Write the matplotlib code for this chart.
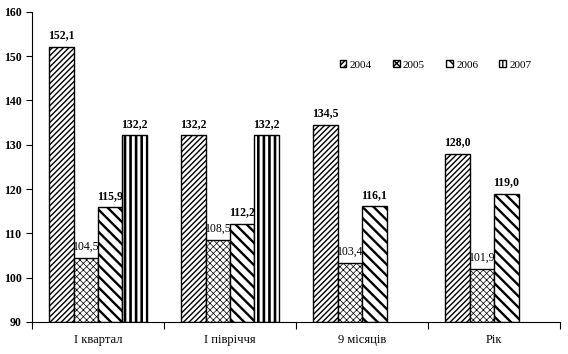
import numpy as np
import matplotlib
matplotlib.use("Agg")
import matplotlib.pyplot as plt

categories = ["І квартал", "І півріччя", "9 місяців", "Рік"]
years = ["2004", "2005", "2006", "2007"]
v2004 = [152.1, 132.2, 134.5, 128.0]
v2005 = [104.5, 108.5, 103.4, 101.9]
v2006 = [115.9, 112.2, 116.1, 119.0]
v2007 = [132.2, 132.2, None, None]

series = [v2004, v2005, v2006, v2007]
hatches = ["//////", "xxxxx", "\\\\\\", "|||"]
hatch_lw = [1.0, 0.5, 1.7, 1.9]
label_bold = [True, False, True, True]

plt.rcParams["font.family"] = ["Liberation Serif", "DejaVu Serif"]

fig = plt.figure(figsize=(5.68, 3.54), dpi=100)
ax = fig.add_axes([0.0563, 0.0904, 0.93, 0.876])

x = np.arange(len(categories))
w = 0.185
for i, (vals, h, yr) in enumerate(zip(series, hatches, years)):
    xs = [xi + (i - 1.5) * w for xi, v in zip(x, vals) if v is not None]
    vs = [v for v in vals if v is not None]
    with plt.rc_context({"hatch.linewidth": hatch_lw[i]}):
        bars = ax.bar(xs, [v - 90 for v in vs], w, bottom=90, color="white",
                      edgecolor="black", hatch=h, linewidth=1.0, label=yr)
        for b in bars:
            if hasattr(b, "set_hatch_linewidth"):
                b.set_hatch_linewidth(hatch_lw[i])
    for xb, v in zip(xs, vs):
        ax.text(xb, v + 1.2, f"{v:.1f}".replace(".", ","), ha="center",
                va="bottom", fontsize=8.5,
                fontweight="bold" if label_bold[i] else "normal")

ax.set_ylim(90, 160)
ax.set_xlim(-0.5, 3.5)
ax.set_yticks(range(90, 161, 10))
ax.set_yticklabels([str(t) for t in range(90, 161, 10)], fontsize=8.5, fontweight="bold")
ax.set_xticks(np.arange(-0.5, 4, 1))
ax.set_xticklabels([])
ax.set_xticks(x, minor=True)
ax.set_xticklabels(categories, minor=True, fontsize=9)
ax.tick_params(axis="x", which="minor", length=0, pad=9)
ax.tick_params(axis="x", which="major", length=5, direction="out")
ax.tick_params(axis="y", length=4, direction="out")
ax.spines["top"].set_visible(False)
ax.spines["right"].set_visible(False)

ax.legend(loc="center", bbox_to_anchor=(0.767, 0.816), bbox_transform=fig.transFigure,
          ncol=4, frameon=False, fontsize=8, handlelength=0.6, handleheight=0.6,
          handletextpad=0.3, columnspacing=1.9)

fig.savefig("out.png", dpi=100)
